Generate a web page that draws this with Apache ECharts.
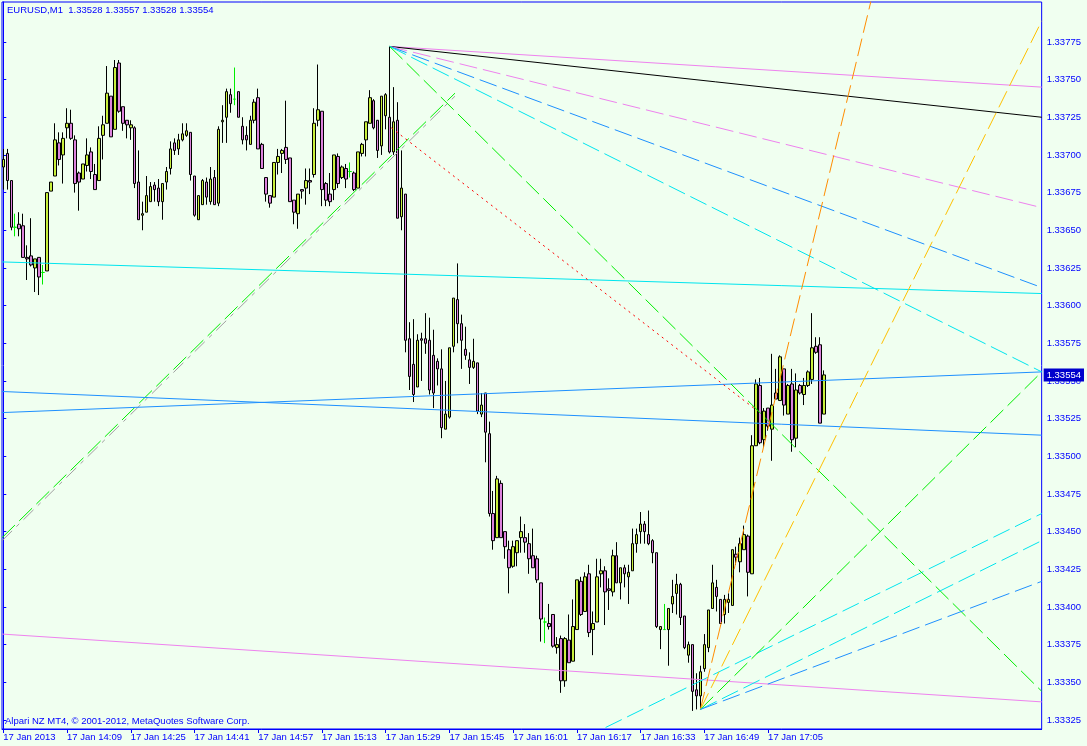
<!DOCTYPE html>
<html><head><meta charset="utf-8">
<script src="https://cdn.jsdelivr.net/npm/echarts@6/dist/echarts.min.js"></script>
<style>html,body{margin:0;padding:0;background:#f0fff0;}#c{width:1087px;height:746px;}</style>
</head><body><div id="c"></div><script>
// ---- DATA ----
const symbolTitle = 'EURUSD,M1  1.33528 1.33557 1.33528 1.33554';
const copyrightText = 'Alpari NZ MT4, \u00A9 2001-2012, MetaQuotes Software Corp.';
const xRange = [-0.325, 260.675];
const yRange = [1.33319, 1.338015];
const timeTickIdx = [0, 16, 32, 48, 64, 80, 96, 112, 128, 144, 160, 176, 192];
const timeTickLabels = ['17 Jan 2013', '17 Jan 14:09', '17 Jan 14:25', '17 Jan 14:41', '17 Jan 14:57', '17 Jan 15:13', '17 Jan 15:29', '17 Jan 15:45', '17 Jan 16:01', '17 Jan 16:17', '17 Jan 16:33', '17 Jan 16:49', '17 Jan 17:05'];
const priceTicks = [1.33325, 1.3335, 1.33375, 1.334, 1.33425, 1.3345, 1.33475, 1.335, 1.33525, 1.3355, 1.33575, 1.336, 1.33625, 1.3365, 1.33675, 1.337, 1.33725, 1.3375, 1.33775];
const lastPrice = 1.33554;
// candles: [open, close, low, high], one per minute bar
const candles = [
[1.33692,1.33697,1.33677,1.33704],[1.33701,1.33683,1.33677,1.33704],[1.33683,1.33652,1.33650,1.33683],[1.33652,1.33652,1.33646,1.33661],
[1.33654,1.33651,1.33646,1.33662],[1.33653,1.33632,1.33632,1.33661],[1.33632,1.33631,1.33617,1.33640],[1.33633,1.33627,1.33626,1.33658],
[1.33625,1.33631,1.33609,1.33631],[1.33632,1.33619,1.33607,1.33632],[1.33622,1.33622,1.33614,1.33627],[1.33623,1.33675,1.33623,1.33675],
[1.33676,1.33682,1.33676,1.33682],[1.33686,1.33710,1.33686,1.33721],[1.33708,1.33697,1.33693,1.33715],[1.33700,1.33711,1.33681,1.33715],
[1.33718,1.33721,1.33711,1.33731],[1.33721,1.33711,1.33710,1.33730],[1.33710,1.33681,1.33675,1.33713],[1.33688,1.33682,1.33663,1.33689],
[1.33684,1.33694,1.33684,1.33694],[1.33693,1.33700,1.33689,1.33711],[1.33702,1.33689,1.33684,1.33705],[1.33687,1.33677,1.33677,1.33694],
[1.33683,1.33711,1.33683,1.33719],[1.33713,1.33720,1.33697,1.33726],[1.33721,1.33741,1.33721,1.33759],[1.33739,1.33712,1.33712,1.33739],
[1.33717,1.33758,1.33717,1.33763],[1.33761,1.33729,1.33728,1.33763],[1.33732,1.33721,1.33716,1.33732],[1.33723,1.33720,1.33711,1.33723],
[1.33718,1.33720,1.33710,1.33723],[1.33718,1.33681,1.33678,1.33719],[1.33682,1.33657,1.33657,1.33703],[1.33660,1.33661,1.33650,1.33669],
[1.33662,1.33673,1.33662,1.33686],[1.33669,1.33679,1.33669,1.33682],[1.33680,1.33677,1.33669,1.33682],[1.33678,1.33669,1.33666,1.33684],
[1.33669,1.33681,1.33657,1.33681],[1.33682,1.33689,1.33677,1.33692],[1.33691,1.33704,1.33687,1.33709],[1.33708,1.33703,1.33700,1.33711],
[1.33704,1.33710,1.33700,1.33714],[1.33710,1.33714,1.33709,1.33721],[1.33713,1.33716,1.33712,1.33721],[1.33715,1.33687,1.33683,1.33715],
[1.33686,1.33660,1.33659,1.33686],[1.33657,1.33673,1.33657,1.33673],[1.33667,1.33683,1.33667,1.33684],[1.33682,1.33672,1.33667,1.33685],
[1.33669,1.33684,1.33667,1.33692],[1.33685,1.33667,1.33667,1.33690],[1.33668,1.33717,1.33666,1.33719],[1.33722,1.33723,1.33708,1.33733],
[1.33725,1.33742,1.33708,1.33744],[1.33740,1.33734,1.33728,1.33744],[1.33737,1.33737,1.33733,1.33758],[1.33742,1.33725,1.33725,1.33742],
[1.33719,1.33710,1.33707,1.33725],[1.33713,1.33710,1.33703,1.33719],[1.33707,1.33723,1.33707,1.33726],[1.33723,1.33735,1.33721,1.33737],
[1.33738,1.33704,1.33704,1.33744],[1.33707,1.33691,1.33691,1.33708],[1.33685,1.33674,1.33669,1.33685],[1.33673,1.33668,1.33665,1.33673],
[1.33672,1.33695,1.33672,1.33695],[1.33695,1.33699,1.33687,1.33704],[1.33701,1.33703,1.33688,1.33704],[1.33705,1.33697,1.33694,1.33736],
[1.33698,1.33669,1.33669,1.33698],[1.33670,1.33662,1.33654,1.33670],[1.33661,1.33674,1.33651,1.33674],[1.33677,1.33676,1.33671,1.33677],
[1.33678,1.33683,1.33667,1.33691],[1.33683,1.33682,1.33674,1.33691],[1.33687,1.33721,1.33685,1.33731],[1.33723,1.33730,1.33719,1.33760],
[1.33729,1.33677,1.33666,1.33729],[1.33681,1.33670,1.33666,1.33682],[1.33674,1.33669,1.33666,1.33688],[1.33677,1.33700,1.33670,1.33700],
[1.33699,1.33681,1.33678,1.33701],[1.33685,1.33692,1.33684,1.33693],[1.33691,1.33684,1.33678,1.33694],[1.33689,1.33689,1.33685,1.33695],
[1.33688,1.33677,1.33676,1.33689],[1.33678,1.33702,1.33678,1.33702],[1.33701,1.33707,1.33699,1.33708],[1.33710,1.33722,1.33699,1.33722],
[1.33721,1.33738,1.33721,1.33743],[1.33736,1.33718,1.33717,1.33737],[1.33723,1.33703,1.33698,1.33723],[1.33706,1.33739,1.33700,1.33739],
[1.33726,1.33740,1.33717,1.33741],[1.33725,1.33702,1.33701,1.33772],[1.33702,1.33722,1.33700,1.33745],[1.33723,1.33658,1.33658,1.33735],
[1.33659,1.33678,1.33650,1.33703],[1.33674,1.33577,1.33569,1.33674],[1.33578,1.33553,1.33544,1.33589],[1.33561,1.33541,1.33536,1.33591],
[1.33546,1.33577,1.33546,1.33581],[1.33578,1.33577,1.33550,1.33582],[1.33578,1.33575,1.33568,1.33595],[1.33577,1.33544,1.33541,1.33592],
[1.33567,1.33542,1.33532,1.33584],[1.33563,1.33558,1.33547,1.33565],[1.33558,1.33519,1.33512,1.33571],[1.33518,1.33528,1.33518,1.33550],
[1.33526,1.33572,1.33525,1.33572],[1.33573,1.33605,1.33569,1.33605],[1.33604,1.33588,1.33575,1.33628],[1.33588,1.33577,1.33558,1.33594],
[1.33571,1.33567,1.33564,1.33586],[1.33564,1.33559,1.33548,1.33569],[1.33559,1.33563,1.33558,1.33578],[1.33562,1.33530,1.33528,1.33562],
[1.33528,1.33534,1.33526,1.33542],[1.33542,1.33516,1.33496,1.33542],[1.33515,1.33462,1.33460,1.33523],[1.33462,1.33444,1.33438,1.33477],
[1.33446,1.33485,1.33446,1.33487],[1.33482,1.33446,1.33446,1.33484],[1.33450,1.33440,1.33432,1.33450],[1.33438,1.33426,1.33409,1.33444],
[1.33427,1.33440,1.33426,1.33444],[1.33436,1.33444,1.33427,1.33444],[1.33446,1.33450,1.33436,1.33460],[1.33446,1.33443,1.33436,1.33455],
[1.33442,1.33432,1.33422,1.33449],[1.33434,1.33426,1.33426,1.33452],[1.33432,1.33418,1.33416,1.33434],[1.33416,1.33392,1.33377,1.33416],
[1.33390,1.33390,1.33376,1.33393],[1.33389,1.33387,1.33385,1.33402],[1.33395,1.33374,1.33373,1.33395],[1.33373,1.33375,1.33369,1.33380],
[1.33379,1.33351,1.33343,1.33381],[1.33351,1.33379,1.33347,1.33380],[1.33378,1.33363,1.33363,1.33395],[1.33364,1.33387,1.33364,1.33405],
[1.33385,1.33418,1.33385,1.33418],[1.33417,1.33395,1.33394,1.33420],[1.33397,1.33420,1.33397,1.33423],[1.33422,1.33383,1.33380,1.33428],
[1.33385,1.33389,1.33368,1.33397],[1.33390,1.33420,1.33390,1.33432],[1.33422,1.33424,1.33413,1.33432],[1.33424,1.33410,1.33388,1.33427],
[1.33412,1.33411,1.33398,1.33419],[1.33410,1.33434,1.33407,1.33438],[1.33434,1.33416,1.33416,1.33443],[1.33416,1.33426,1.33405,1.33426],
[1.33426,1.33422,1.33413,1.33428],[1.33420,1.33423,1.33402,1.33428],[1.33424,1.33442,1.33424,1.33452],[1.33442,1.33448,1.33436,1.33452],
[1.33450,1.33455,1.33442,1.33463],[1.33455,1.33450,1.33442,1.33457],[1.33448,1.33442,1.33441,1.33464],[1.33444,1.33436,1.33429,1.33445],
[1.33436,1.33387,1.33386,1.33436],[1.33385,1.33387,1.33372,1.33387],[1.33385,1.33385,1.33385,1.33402],[1.33385,1.33399,1.33361,1.33399],
[1.33402,1.33407,1.33396,1.33418],[1.33409,1.33415,1.33395,1.33422],[1.33415,1.33393,1.33388,1.33416],[1.33394,1.33373,1.33372,1.33394],
[1.33368,1.33375,1.33363,1.33377],[1.33375,1.33344,1.33331,1.33375],[1.33345,1.33341,1.33332,1.33356],[1.33341,1.33357,1.33332,1.33361],
[1.33359,1.33375,1.33357,1.33382],[1.33373,1.33398,1.33370,1.33398],[1.33399,1.33416,1.33399,1.33428],[1.33413,1.33407,1.33397,1.33418],
[1.33405,1.33389,1.33389,1.33405],[1.33395,1.33405,1.33389,1.33408],[1.33403,1.33405,1.33396,1.33409],[1.33401,1.33438,1.33401,1.33438],
[1.33435,1.33433,1.33428,1.33440],[1.33430,1.33442,1.33423,1.33446],[1.33438,1.33448,1.33438,1.33454],[1.33447,1.33423,1.33407,1.33448],
[1.33422,1.33507,1.33422,1.33514],[1.33507,1.33548,1.33507,1.33551],[1.33547,1.33509,1.33508,1.33552],[1.33511,1.33530,1.33506,1.33532],
[1.33532,1.33520,1.33517,1.33532],[1.33518,1.33534,1.33497,1.33568],[1.33542,1.33538,1.33538,1.33558],[1.33537,1.33566,1.33537,1.33567],
[1.33558,1.33534,1.33527,1.33558],[1.33528,1.33547,1.33528,1.33548],[1.33548,1.33511,1.33503,1.33558],[1.33512,1.33544,1.33506,1.33555],
[1.33547,1.33542,1.33541,1.33548],[1.33541,1.33547,1.33534,1.33552],[1.33547,1.33556,1.33546,1.33557],[1.33551,1.33572,1.33548,1.33595],
[1.33573,1.33569,1.33568,1.33579],[1.33574,1.33522,1.33522,1.33579],[1.33528,1.33554,1.33528,1.33557]
];
// drawn objects: [barIndex, price] endpoints
const peakPoint = [97, 1.33772];
const lowPoint = [175, 1.33332];
const peakFanEnds = [[260.7, 1.33745], [260.7, 1.33725], [260.7, 1.33665], [260.7, 1.33612], [260.7, 1.33556], [260.7, 1.33344]];
const lowFanEnds = [[217.9, 1.33803], [260.7, 1.33789], [260.7, 1.33556], [260.7, 1.33444], [260.7, 1.33417]];
const cyanRayPts = [[151.2, 1.33320], [260.7, 1.33462]];
const violetTrendPts = [[-0.3, 1.33382], [260.7, 1.33337]];
const aquaTrendPts = [[-0.3, 1.33629], [260.7, 1.33608]];
const blueTrendAPts = [[-0.3, 1.33543], [260.7, 1.33514]];
const blueTrendBPts = [[-0.3, 1.33529], [260.7, 1.33556]];
const redDotPts = [[97.4, 1.33718], [188.4, 1.33532]];
const greenRisePts = [[-0.3, 1.33446], [113.4, 1.33741]];
const grayRisePts = [[-0.3, 1.33444], [113.4, 1.33739]];

// ---- CHART ----
const BLUE = '#0000ff';
const FONT = 'Liberation Sans';
const chart = echarts.init(document.getElementById('c'), null, {renderer: 'canvas'});
const candleData = candles.map((d, i) => [i, d[0], d[1], d[2], d[3]]);
const DASH = [18, 6];
function seg(pts, color, type, z) {
  return {type: 'line', data: pts, symbol: 'none', silent: true, animation: false, z: z || 3,
    lineStyle: {color: color, width: 1, type: type}};
}
const fanPeakStyles = [['#ee82ee', 'solid'], ['#000000', 'solid'], ['#ee82ee', DASH], ['#1e90ff', DASH], ['#00e5ee', DASH], ['#00ee00', DASH]];
const fanLowStyles = [['#ff8c00', DASH], ['#ffc000', DASH], ['#00ee00', DASH], ['#00e5ee', DASH], ['#1e90ff', DASH]];
const series = [{
  type: 'candlestick', data: candleData, encode: {x: 0, y: [1, 2, 3, 4]},
  barWidth: 3, animation: false, silent: true, z: 2,
  itemStyle: {color: '#c8f03c', color0: '#dc82dc', borderColor: '#000', borderColor0: '#000', borderColorDoji: '#00ee00', borderWidth: 1}
}];
series.push(seg(grayRisePts, '#a0a0a0', [14, 6, 4, 6]));
series.push(seg(greenRisePts, '#00ee00', DASH));
series.push(seg(violetTrendPts, '#ee82ee', 'solid'));
series.push(seg(aquaTrendPts, '#00e5ee', 'solid'));
series.push(seg(blueTrendAPts, '#1e90ff', 'solid'));
series.push(seg(blueTrendBPts, '#1e90ff', 'solid'));
series.push(seg(cyanRayPts, '#00e5ee', DASH));
series.push(seg(redDotPts, '#ff0000', [2, 4]));
peakFanEnds.forEach((e, i) => series.push(seg([peakPoint, e], fanPeakStyles[i][0], fanPeakStyles[i][1])));
lowFanEnds.forEach((e, i) => series.push(seg([lowPoint, e], fanLowStyles[i][0], fanLowStyles[i][1])));

const option = {
  backgroundColor: '#f0fff0',
  animation: false,
  grid: {left: 2, top: 2, width: 1044, height: 727, show: true, borderColor: BLUE, borderWidth: 1, backgroundColor: '#f0fff0'},
  xAxis: {type: 'value', min: xRange[0], max: xRange[1],
    axisLine: {show: true, lineStyle: {color: BLUE}},
    axisTick: {show: true, customValues: timeTickIdx, length: 4, lineStyle: {color: BLUE}},
    axisLabel: {customValues: timeTickIdx, formatter: v => timeTickLabels[timeTickIdx.indexOf(Math.round(v))] || '',
      align: 'left', margin: 3, color: BLUE, fontFamily: FONT, fontSize: 9.5},
    splitLine: {show: false}},
  yAxis: [{type: 'value', position: 'right', min: yRange[0], max: yRange[1],
    axisLine: {show: true, lineStyle: {color: BLUE}},
    axisTick: {show: true, customValues: priceTicks, length: 3, lineStyle: {color: BLUE}},
    axisLabel: {customValues: priceTicks, formatter: v => v.toFixed(5), margin: 5, color: BLUE, fontFamily: FONT, fontSize: 9.5},
    splitLine: {show: false}},
  {type: 'value', position: 'right', min: yRange[0], max: yRange[1],
    axisLine: {show: false}, axisTick: {show: false}, splitLine: {show: false},
    axisLabel: {customValues: [lastPrice], formatter: v => v.toFixed(5), margin: 2, color: '#ffffff', backgroundColor: '#0000cd',
      padding: [2, 3, 1, 3], fontFamily: FONT, fontSize: 9.5}}],
  graphic: [
    {type: 'text', left: 7, top: 5, style: {text: symbolTitle, fill: BLUE, font: '9.5px "Liberation Sans"'}},
    {type: 'text', left: 5, top: 716, style: {text: copyrightText, fill: BLUE, font: '9.5px "Liberation Sans"'}}
  ],
  series: series
};
chart.setOption(option);
</script></body></html>
